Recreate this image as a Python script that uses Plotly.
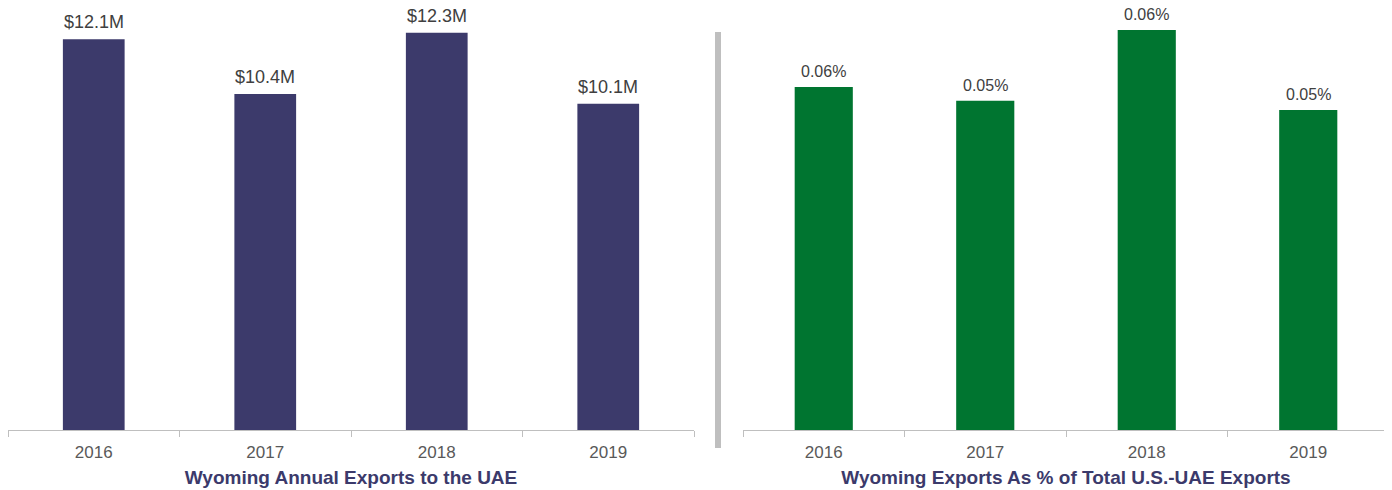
import plotly.graph_objects as go

years = ["2016", "2017", "2018", "2019"]
exports_musd = [12.1, 10.4, 12.3, 10.1]
export_labels = ["$12.1M", "$10.4M", "$12.3M", "$10.1M"]
share_pct = [0.0553, 0.0531, 0.0645, 0.0516]
share_labels = [f"{v:.2f}%" for v in share_pct]

left_title = "Wyoming Annual Exports to the UAE"
right_title = "Wyoming Exports As % of Total U.S.-UAE Exports"

W, H = 1392, 490
OFF = 8  # page body margin offset
navy = "#3C3A6B"
green = "#007530"
label_color = "#404040"
tick_color = "#595959"
title_color = "#3B3A6B"
font_family = "Liberation Sans, Arial, sans-serif"

axis_y = 430 - OFF
plot_h = axis_y

fig = go.Figure()
fig.add_trace(go.Bar(
    x=years, y=exports_musd,
    marker=dict(color=navy, line=dict(width=0)), width=0.36,
    xaxis="x", yaxis="y", showlegend=False,
))
fig.add_trace(go.Bar(
    x=years, y=share_pct,
    marker=dict(color=green, line=dict(width=0)), width=0.36,
    xaxis="x2", yaxis="y2", showlegend=False,
))

# category axes: annotation x uses the category index
annotations = []
for i, (v, t) in enumerate(zip(exports_musd, export_labels)):
    annotations.append(dict(x=i, y=v, xref="x", yref="y", text=t, showarrow=False,
                            yanchor="bottom", yshift=5,
                            font=dict(size=18, color=label_color, family=font_family)))
for i, (v, t) in enumerate(zip(share_pct, share_labels)):
    annotations.append(dict(x=i, y=v, xref="x2", yref="y2", text=t, showarrow=False,
                            yanchor="bottom", yshift=5,
                            font=dict(size=16, color=label_color, family=font_family)))

ydom = [(H - axis_y) / H, 1.0]
axis_common = dict(
    type="category", categoryorder="array", categoryarray=years,
    showline=True, linecolor="#BFBFBF", linewidth=1,
    ticks="outside", tickson="boundaries", ticklen=6, tickcolor="#BFBFBF",
    ticklabelstandoff=7, tickangle=0,
    tickfont=dict(size=17, color=tick_color, family=font_family),
    showgrid=False, zeroline=False, fixedrange=True,
)
fig.update_layout(
    width=W, height=H,
    margin=dict(l=0, r=0, t=0, b=0),
    plot_bgcolor="white", paper_bgcolor="white",
    font=dict(family=font_family),
    annotations=annotations,
    xaxis=dict(domain=[(8 - OFF) / W, (694 - OFF) / W], anchor="y",
               title=dict(text=f"<b>{left_title}</b>", standoff=9,
                          font=dict(size=19, color=title_color, family=font_family)),
               **axis_common),
    yaxis=dict(domain=ydom, range=[0, plot_h / 32.3], visible=False, fixedrange=True),
    xaxis2=dict(domain=[(743 - OFF) / W, (1389 - OFF) / W], anchor="y2",
                title=dict(text=f"<b>{right_title}</b>", standoff=9,
                           font=dict(size=19, color=title_color, family=font_family)),
                **axis_common),
    yaxis2=dict(domain=ydom, range=[0, plot_h / 6202.0], visible=False, fixedrange=True),
    shapes=[dict(type="rect", xref="paper", yref="paper",
                 x0=(715 - OFF) / W, x1=(721 - OFF) / W,
                 y0=(H - (448 - OFF)) / H, y1=(H - (32 - OFF)) / H,
                 fillcolor="#BFBFBF", line=dict(width=0), layer="below")],
)

fig.write_html("out.html")
